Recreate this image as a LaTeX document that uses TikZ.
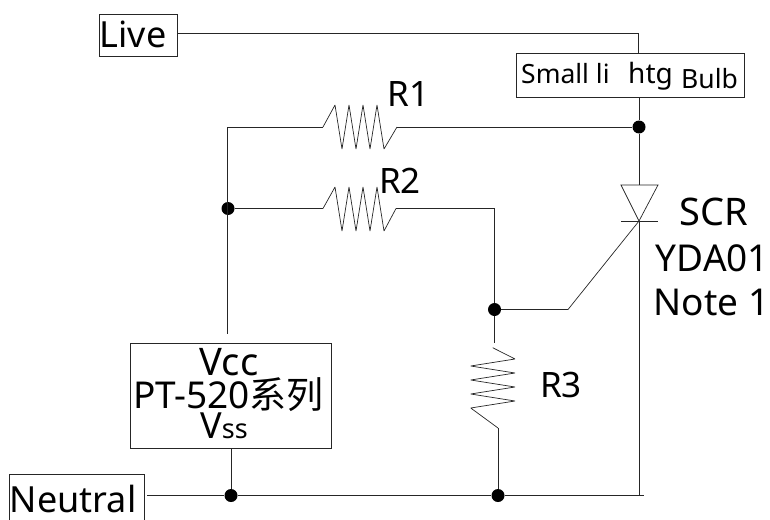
\documentclass[tikz,border=0pt]{standalone}
\usepackage{fontspec}
\setmainfont{Noto Sans}
\newfontfamily\cjk{Noto Sans CJK SC}
\tikzset{
  wire/.style={line width=0.9pt,draw=black!85},
  thin wire/.style={line width=0.7pt,draw=black!85},
  dotnode/.style={circle,fill=black,inner sep=0pt,minimum size=13pt},
  boxnode/.style={draw=black!85,line width=0.9pt,inner sep=0pt},
  lab/.style={inner sep=0pt,anchor=base,font=\fontsize{36}{36}\selectfont},
  biglab/.style={inner sep=0pt,anchor=base,font=\fontsize{38}{38}\selectfont},
  bulbtxt/.style={inner sep=0pt,anchor=base west,font=\fontsize{26.5}{26.5}\selectfont},
}
\begin{document}
\begin{tikzpicture}[x=1pt,y=-1pt]
\useasboundingbox (0,0) rectangle (770,519);
% boxes
\node[boxnode,minimum width=78pt,minimum height=42pt] (live) at (138,35) {};
\node[boxnode,minimum width=228pt,minimum height=44pt] (bulb) at (630.5,75) {};
\node[boxnode,minimum width=201pt,minimum height=105pt] (ic) at (230.5,395.5) {};
\draw[boxnode] (9,530) |- (144,474) -- (144,530);
\coordinate (neutralout) at (147,495.5);
% junctions
\node[dotnode] (d1) at (639,127) {};
\node[dotnode] (d2) at (228,208.5) {};
\node[dotnode] (d3) at (494.5,309.5) {};
\node[dotnode] (d4) at (231,495.5) {};
\node[dotnode] (d5) at (498,495.5) {};
% helpers
\coordinate (c1) at (227,127);
\coordinate (r1a) at (323,127);
\coordinate (r1b) at (397,127);
\coordinate (r2a) at (323,208.5);
\coordinate (r2b) at (396,208.5);
\coordinate (r2c) at (494.5,208.5);
\coordinate (r3a) at (494.5,343);
\coordinate (r3b) at (498,428);
\coordinate (icup) at (227,334);
\coordinate (scrk) at (639,221);
\coordinate (scra) at (639,185);
\coordinate (gk) at (568,309.5);
\coordinate (lc) at (638.5,33);
\coordinate (br) at (639,495.5);
\coordinate (bend) at (644,495.5);
% wires
\draw[wire] (live.east |- lc) -- (lc) -- (lc |- bulb.north);
\draw[wire] (bulb.south -| d1) -- (d1) -- (scra);
\draw[wire] (scrk) -- (br);
\draw[wire] (r1b) -- (d1);
\draw[wire] (r1a) -- (c1) -- (icup);
\draw[wire] (d2) -- (r2a);
\draw[wire] (r2b) -- (r2c) -- (d3) -- (r3a);
\draw[thin wire] (d3) -- (gk) -- (scrk);
\draw[wire] (neutralout) -- (d4) -- (d5) -- (bend);
\draw[wire] (ic.south -| d4) -- (d4);
\draw[wire] (r3b) -- (d5);
% resistors
\draw[thin wire,line join=bevel] (r1a) -- (335,105) -- (342,149) -- (349,105) -- (356,149) -- (363,105) -- (370,149) -- (377,105) -- (384,149) -- (r1b);
\draw[thin wire,line join=bevel] (r2a) -- (335,187) -- (342,231) -- (349,187) -- (356,231) -- (363,187) -- (370,231) -- (377,187) -- (384,231) -- (r2b);
\draw[thin wire,line join=bevel] (492.7,347.7) -- (515,359) -- (470.7,366) -- (515,373) -- (470.7,380) -- (515,387) -- (470.7,394) -- (515,401) -- (470.7,408) -- (r3b);
% SCR
\draw[thin wire] (621,185) -- (658,185) -- (scrk) -- cycle;
\draw[thin wire] (621,221) -- (658,221);
% labels
\node[lab] (tlive) at (133,47.5) {Live};
\node[lab] (tneutral) at (73,512) {Neutral};
\node[lab,font=\fontsize{35}{35}\selectfont] (tr1) at (408.5,106.5) {R1};
\node[lab,font=\fontsize{35}{35}\selectfont] (tr2) at (400,193) {R2};
\node[lab,font=\fontsize{35}{35}\selectfont] (tr3) at (561,397) {R3};
\node[biglab] (tscr) at (714,225) {SCR};
\node[lab,font=\fontsize{37}{37}\selectfont] (tyda) at (712.5,271.5) {YDA01};
\node[lab,font=\fontsize{37}{37}\selectfont] (tnote) at (711.5,315) {Note 1};
\node[biglab] (tvcc) at (229,375) {Vcc};
\node[lab,font=\fontsize{37}{37}\selectfont] (tpt) at (228.5,408) {PT-520{\cjk 系列}};
\node[lab] (tvss) at (224,438) {V{\fontsize{27}{27}\selectfont ss}};
\node[bulbtxt] (b1) at (521,83) {Small li};
\node[bulbtxt,font=\fontsize{28}{28}\selectfont] (b2) at (628,83) {htg};
\node[bulbtxt] (b3) at (681,88) {Bulb};
\end{tikzpicture}
\end{document}
